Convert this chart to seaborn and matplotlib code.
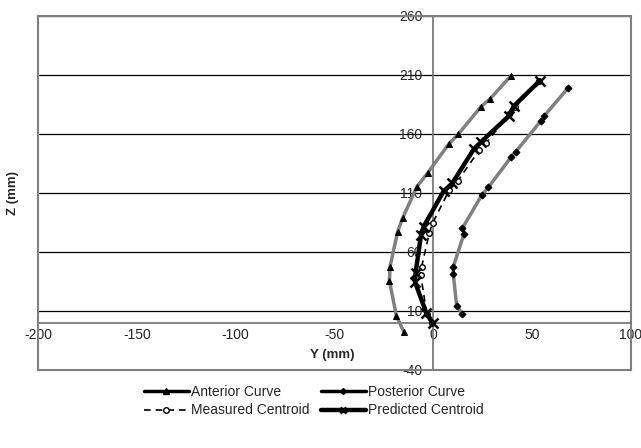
import pandas as pd
import matplotlib
matplotlib.use("Agg")
import matplotlib.pyplot as plt
from matplotlib.lines import Line2D
import seaborn as sns

# curve data (Y, Z in mm)
ant_y = [-15.0, -18.7, -22.2, -21.9, -18.1, -15.6, -8.3, -2.8, 7.9, 12.6, 24.1, 28.5, 39.3]
ant_z = [-7.6, 5.9, 35.3, 47.5, 76.9, 88.5, 115.3, 127.1, 151.7, 159.7, 183.1, 189.3, 209.3]

post_y = [14.7, 11.8, 10.1, 10.1, 15.5, 14.7, 24.5, 27.8, 39.3, 41.7, 54.5, 56.2, 68.3]
post_z = [7.4, 14.2, 41.3, 47.5, 75.2, 80.0, 108.2, 114.7, 140.2, 144.9, 171.2, 175.4, 199.2]

meas_y = [-0.5, -3.3, -6.4, -5.9, -2.0, -0.3, 8.1, 12.5, 23.3, 26.5, 38.5, 41.5, 53.6]
meas_z = [-0.5, 7.5, 40.4, 47.5, 76.3, 84.7, 112.5, 120.5, 146.4, 152.0, 176.5, 182.5, 205.0]

pred_y = [-0.3, -3.5, -9.3, -9.0, -6.2, -4.9, 5.2, 9.5, 20.4, 24.0, 38.4, 40.6, 53.8]
pred_z = [-0.3, 8.0, 34.7, 41.9, 74.7, 81.5, 111.4, 118.0, 146.9, 153.0, 175.5, 183.4, 205.0]

y_ticks = [-40, 10, 60, 110, 160, 210, 260]
x_ticks = [-200, -150, -100, -50, 0, 50, 100]

sns.set_style("white")
plt.rcParams["font.family"] = ["Liberation Sans", "DejaVu Sans"]
plt.rcParams["axes.unicode_minus"] = False

fig = plt.figure(figsize=(6.41, 4.48), dpi=100)
ax = fig.add_axes([0.0593, 0.1743, 0.9251, 0.7902])

ant = pd.DataFrame({"y": ant_y, "z": ant_z})
post = pd.DataFrame({"y": post_y, "z": post_z})
meas = pd.DataFrame({"y": meas_y, "z": meas_z})
pred = pd.DataFrame({"y": pred_y, "z": pred_z})

sns.lineplot(data=ant, x="y", y="z", sort=False, estimator=None, ax=ax, color="#808080",
             lw=2.5, marker="^", markersize=4.5, markerfacecolor="black", markeredgecolor="black", zorder=3)
sns.lineplot(data=post, x="y", y="z", sort=False, estimator=None, ax=ax, color="#808080",
             lw=2.5, marker="D", markersize=3.5, markerfacecolor="black", markeredgecolor="black", zorder=3)
sns.lineplot(data=meas, x="y", y="z", sort=False, estimator=None, ax=ax, color="black",
             lw=1.2, linestyle=(0, (4, 3)), marker="o", markersize=4, markerfacecolor="white",
             markeredgecolor="black", markeredgewidth=1, zorder=4)
sns.lineplot(data=pred, x="y", y="z", sort=False, estimator=None, ax=ax, color="black",
             lw=3.2, marker="x", markersize=7, markeredgewidth=1.8, markeredgecolor="black", zorder=5)

ax.set_xlim(-200, 100)
ax.set_ylim(-40, 260)
ax.set_xticks(x_ticks)
ax.set_yticks(y_ticks)
ax.yaxis.grid(True, color="black", lw=0.9)
ax.set_axisbelow(True)

# excel style axes crossing at zero
ax.spines["left"].set_position(("data", 0))
ax.spines["bottom"].set_position(("data", 0))
for s in ["left", "bottom"]:
    ax.spines[s].set_color("#707070")
    ax.spines[s].set_linewidth(1.2)
for s in ["top", "right"]:
    ax.spines[s].set_visible(True)
    ax.spines[s].set_color("#808080")
    ax.spines[s].set_linewidth(1.5)
ax.axvline(-200, color="#808080", lw=1.5, zorder=6, clip_on=False)
ax.axhline(-40, color="#808080", lw=1.5, zorder=6, clip_on=False)

ax.tick_params(axis="x", direction="inout", length=5, width=1, color="#505050", labelsize=10, pad=1)
ax.tick_params(axis="y", direction="out", length=4, width=1, color="#202020", labelsize=10, pad=4)

ax.set_xlabel("Y (mm)", fontsize=9.5, fontweight="bold")
ax.set_ylabel("Z (mm)", fontsize=9.5, fontweight="bold")
ax.xaxis.set_label_coords(0.497, 0.059)
ax.yaxis.set_label_coords(-0.032, 0.5)

handles = [
    Line2D([], [], color="black", lw=2.5, marker="^", markersize=4),
    Line2D([], [], color="black", lw=1.2, linestyle=(0, (4, 3)), marker="o", markersize=4,
           markerfacecolor="white"),
    Line2D([], [], color="black", lw=2.5, marker="D", markersize=3),
    Line2D([], [], color="black", lw=3.2, marker="x", markersize=5, markeredgewidth=2),
]
labels = ["Anterior Curve", "Measured Centroid", "Posterior Curve", "Predicted Centroid"]
fig.legend(handles, labels, ncol=2, frameon=False, fontsize=10, handlelength=3.2,
           handletextpad=0.2, columnspacing=0.8, labelspacing=0.3,
           loc="center", bbox_to_anchor=(0.49, 0.104))

fig.savefig("out.png", dpi=100)
